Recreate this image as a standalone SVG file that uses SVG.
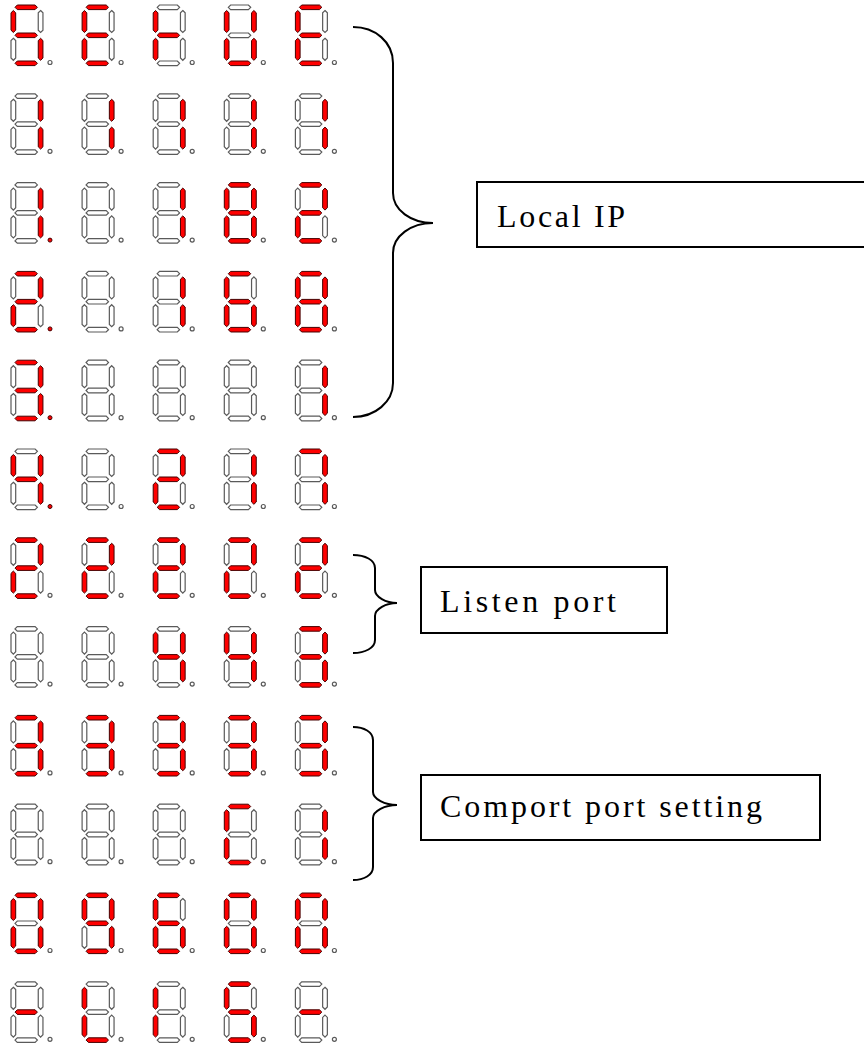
<svg xmlns="http://www.w3.org/2000/svg" xmlns:xlink="http://www.w3.org/1999/xlink" width="864" height="1046" viewBox="0 0 864 1046">
<style>
use{fill:#fff;stroke:#5a5a5a;stroke-width:1.2}
use.n{fill:#f00;stroke:#400;stroke-width:1}
.box{fill:#fff;stroke:#000;stroke-width:2}
.t{font-family:"Liberation Serif",serif;font-size:32px;fill:#000}
.br{fill:none;stroke:#000;stroke-width:2}
</style>
<defs>
<path id="a" d="M4,2.3 L6.3,0 L24.1,0 L26.4,2.3 L24.1,4.6 L6.3,4.6Z"/>
<path id="g" d="M4,30.3 L6.3,28 L24.1,28 L26.4,30.3 L24.1,32.6 L6.3,32.6Z"/>
<path id="d" d="M4,58.3 L6.3,56 L24.1,56 L26.4,58.3 L24.1,60.6 L6.3,60.6Z"/>
<path id="f" d="M2.35,5.5 L4.7,7.8 L4.7,25.2 L2.35,27.5 L0,25.2 L0,7.8Z"/>
<path id="b" d="M29.6,5.5 L31.95,7.8 L31.95,25.2 L29.6,27.5 L27.25,25.2 L27.25,7.8Z"/>
<path id="e" d="M2.35,33.3 L4.7,35.6 L4.7,53 L2.35,55.3 L0,53 L0,35.6Z"/>
<path id="c" d="M29.6,33.3 L31.95,35.6 L31.95,53 L29.6,55.3 L27.25,53 L27.25,35.6Z"/>
<circle id="p" cx="39" cy="57.5" r="2"/>
</defs>
<rect width="864" height="1046" fill="#fff"/>
<!-- Row 1 -->
<g id="r1c1" transform="translate(11,5)"><use href="#a" class="n"/><use href="#b"/><use href="#c" class="n"/><use href="#d" class="n"/><use href="#e"/><use href="#f" class="n"/><use href="#g" class="n"/><use href="#p"/></g>
<g id="r1c2" transform="translate(82.1,5)"><use href="#a" class="n"/><use href="#b"/><use href="#c"/><use href="#d" class="n"/><use href="#e" class="n"/><use href="#f" class="n"/><use href="#g" class="n"/><use href="#p"/></g>
<g id="r1c3" transform="translate(153.2,5)"><use href="#a"/><use href="#b"/><use href="#c"/><use href="#d"/><use href="#e" class="n"/><use href="#f" class="n"/><use href="#g" class="n"/><use href="#p"/></g>
<g id="r1c4" transform="translate(224.3,5)"><use href="#a"/><use href="#b" class="n"/><use href="#c" class="n"/><use href="#d" class="n"/><use href="#e" class="n"/><use href="#f" class="n"/><use href="#g"/><use href="#p"/></g>
<g id="r1c5" transform="translate(295.4,5)"><use href="#a" class="n"/><use href="#b"/><use href="#c"/><use href="#d" class="n"/><use href="#e" class="n"/><use href="#f" class="n"/><use href="#g" class="n"/><use href="#p"/></g>
<!-- Row 2 -->
<g id="r2c1" transform="translate(11,93.8)"><use href="#a"/><use href="#b" class="n"/><use href="#c" class="n"/><use href="#d"/><use href="#e"/><use href="#f"/><use href="#g"/><use href="#p"/></g>
<g id="r2c2" transform="translate(82.1,93.8)"><use href="#a"/><use href="#b" class="n"/><use href="#c" class="n"/><use href="#d"/><use href="#e"/><use href="#f"/><use href="#g"/><use href="#p"/></g>
<g id="r2c3" transform="translate(153.2,93.8)"><use href="#a"/><use href="#b" class="n"/><use href="#c" class="n"/><use href="#d"/><use href="#e"/><use href="#f"/><use href="#g"/><use href="#p"/></g>
<g id="r2c4" transform="translate(224.3,93.8)"><use href="#a"/><use href="#b" class="n"/><use href="#c" class="n"/><use href="#d"/><use href="#e"/><use href="#f"/><use href="#g"/><use href="#p"/></g>
<g id="r2c5" transform="translate(295.4,93.8)"><use href="#a"/><use href="#b" class="n"/><use href="#c" class="n"/><use href="#d"/><use href="#e"/><use href="#f"/><use href="#g"/><use href="#p"/></g>
<!-- Row 3 -->
<g id="r3c1" transform="translate(11,182.6)"><use href="#a"/><use href="#b" class="n"/><use href="#c" class="n"/><use href="#d"/><use href="#e"/><use href="#f"/><use href="#g"/><use href="#p" class="n"/></g>
<g id="r3c2" transform="translate(82.1,182.6)"><use href="#a"/><use href="#b"/><use href="#c"/><use href="#d"/><use href="#e"/><use href="#f"/><use href="#g"/><use href="#p"/></g>
<g id="r3c3" transform="translate(153.2,182.6)"><use href="#a"/><use href="#b" class="n"/><use href="#c" class="n"/><use href="#d"/><use href="#e"/><use href="#f"/><use href="#g"/><use href="#p"/></g>
<g id="r3c4" transform="translate(224.3,182.6)"><use href="#a" class="n"/><use href="#b" class="n"/><use href="#c" class="n"/><use href="#d" class="n"/><use href="#e" class="n"/><use href="#f" class="n"/><use href="#g" class="n"/><use href="#p"/></g>
<g id="r3c5" transform="translate(295.4,182.6)"><use href="#a" class="n"/><use href="#b" class="n"/><use href="#c"/><use href="#d" class="n"/><use href="#e" class="n"/><use href="#f"/><use href="#g" class="n"/><use href="#p"/></g>
<!-- Row 4 -->
<g id="r4c1" transform="translate(11,271.4)"><use href="#a" class="n"/><use href="#b" class="n"/><use href="#c"/><use href="#d" class="n"/><use href="#e" class="n"/><use href="#f"/><use href="#g" class="n"/><use href="#p" class="n"/></g>
<g id="r4c2" transform="translate(82.1,271.4)"><use href="#a"/><use href="#b"/><use href="#c"/><use href="#d"/><use href="#e"/><use href="#f"/><use href="#g"/><use href="#p"/></g>
<g id="r4c3" transform="translate(153.2,271.4)"><use href="#a"/><use href="#b" class="n"/><use href="#c" class="n"/><use href="#d"/><use href="#e"/><use href="#f"/><use href="#g"/><use href="#p"/></g>
<g id="r4c4" transform="translate(224.3,271.4)"><use href="#a" class="n"/><use href="#b"/><use href="#c" class="n"/><use href="#d" class="n"/><use href="#e" class="n"/><use href="#f" class="n"/><use href="#g" class="n"/><use href="#p"/></g>
<g id="r4c5" transform="translate(295.4,271.4)"><use href="#a" class="n"/><use href="#b" class="n"/><use href="#c" class="n"/><use href="#d" class="n"/><use href="#e" class="n"/><use href="#f" class="n"/><use href="#g" class="n"/><use href="#p"/></g>
<!-- Row 5 -->
<g id="r5c1" transform="translate(11,360.2)"><use href="#a" class="n"/><use href="#b" class="n"/><use href="#c" class="n"/><use href="#d" class="n"/><use href="#e"/><use href="#f"/><use href="#g" class="n"/><use href="#p" class="n"/></g>
<g id="r5c2" transform="translate(82.1,360.2)"><use href="#a"/><use href="#b"/><use href="#c"/><use href="#d"/><use href="#e"/><use href="#f"/><use href="#g"/><use href="#p"/></g>
<g id="r5c3" transform="translate(153.2,360.2)"><use href="#a"/><use href="#b"/><use href="#c"/><use href="#d"/><use href="#e"/><use href="#f"/><use href="#g"/><use href="#p"/></g>
<g id="r5c4" transform="translate(224.3,360.2)"><use href="#a"/><use href="#b"/><use href="#c"/><use href="#d"/><use href="#e"/><use href="#f"/><use href="#g"/><use href="#p"/></g>
<g id="r5c5" transform="translate(295.4,360.2)"><use href="#a"/><use href="#b" class="n"/><use href="#c" class="n"/><use href="#d"/><use href="#e"/><use href="#f"/><use href="#g"/><use href="#p"/></g>
<!-- Row 6 -->
<g id="r6c1" transform="translate(11,449)"><use href="#a"/><use href="#b" class="n"/><use href="#c" class="n"/><use href="#d"/><use href="#e"/><use href="#f" class="n"/><use href="#g" class="n"/><use href="#p" class="n"/></g>
<g id="r6c2" transform="translate(82.1,449)"><use href="#a"/><use href="#b"/><use href="#c"/><use href="#d"/><use href="#e"/><use href="#f"/><use href="#g"/><use href="#p"/></g>
<g id="r6c3" transform="translate(153.2,449)"><use href="#a" class="n"/><use href="#b" class="n"/><use href="#c"/><use href="#d" class="n"/><use href="#e" class="n"/><use href="#f"/><use href="#g" class="n"/><use href="#p"/></g>
<g id="r6c4" transform="translate(224.3,449)"><use href="#a"/><use href="#b" class="n"/><use href="#c" class="n"/><use href="#d"/><use href="#e"/><use href="#f"/><use href="#g"/><use href="#p"/></g>
<g id="r6c5" transform="translate(295.4,449)"><use href="#a" class="n"/><use href="#b" class="n"/><use href="#c" class="n"/><use href="#d"/><use href="#e"/><use href="#f"/><use href="#g"/><use href="#p"/></g>
<!-- Row 7 -->
<g id="r7c1" transform="translate(11,537.8)"><use href="#a" class="n"/><use href="#b" class="n"/><use href="#c"/><use href="#d" class="n"/><use href="#e" class="n"/><use href="#f"/><use href="#g" class="n"/><use href="#p"/></g>
<g id="r7c2" transform="translate(82.1,537.8)"><use href="#a" class="n"/><use href="#b" class="n"/><use href="#c"/><use href="#d" class="n"/><use href="#e" class="n"/><use href="#f"/><use href="#g" class="n"/><use href="#p"/></g>
<g id="r7c3" transform="translate(153.2,537.8)"><use href="#a" class="n"/><use href="#b" class="n"/><use href="#c"/><use href="#d" class="n"/><use href="#e" class="n"/><use href="#f"/><use href="#g" class="n"/><use href="#p"/></g>
<g id="r7c4" transform="translate(224.3,537.8)"><use href="#a" class="n"/><use href="#b" class="n"/><use href="#c"/><use href="#d" class="n"/><use href="#e" class="n"/><use href="#f"/><use href="#g" class="n"/><use href="#p"/></g>
<g id="r7c5" transform="translate(295.4,537.8)"><use href="#a" class="n"/><use href="#b" class="n"/><use href="#c"/><use href="#d" class="n"/><use href="#e" class="n"/><use href="#f"/><use href="#g" class="n"/><use href="#p"/></g>
<!-- Row 8 -->
<g id="r8c1" transform="translate(11,626.6)"><use href="#a"/><use href="#b"/><use href="#c"/><use href="#d"/><use href="#e"/><use href="#f"/><use href="#g"/><use href="#p"/></g>
<g id="r8c2" transform="translate(82.1,626.6)"><use href="#a"/><use href="#b"/><use href="#c"/><use href="#d"/><use href="#e"/><use href="#f"/><use href="#g"/><use href="#p"/></g>
<g id="r8c3" transform="translate(153.2,626.6)"><use href="#a"/><use href="#b" class="n"/><use href="#c" class="n"/><use href="#d"/><use href="#e"/><use href="#f" class="n"/><use href="#g" class="n"/><use href="#p"/></g>
<g id="r8c4" transform="translate(224.3,626.6)"><use href="#a"/><use href="#b" class="n"/><use href="#c" class="n"/><use href="#d"/><use href="#e"/><use href="#f" class="n"/><use href="#g" class="n"/><use href="#p"/></g>
<g id="r8c5" transform="translate(295.4,626.6)"><use href="#a" class="n"/><use href="#b" class="n"/><use href="#c" class="n"/><use href="#d" class="n"/><use href="#e"/><use href="#f"/><use href="#g" class="n"/><use href="#p"/></g>
<!-- Row 9 -->
<g id="r9c1" transform="translate(11,715.4)"><use href="#a" class="n"/><use href="#b" class="n"/><use href="#c" class="n"/><use href="#d" class="n"/><use href="#e"/><use href="#f"/><use href="#g" class="n"/><use href="#p"/></g>
<g id="r9c2" transform="translate(82.1,715.4)"><use href="#a" class="n"/><use href="#b" class="n"/><use href="#c" class="n"/><use href="#d" class="n"/><use href="#e"/><use href="#f"/><use href="#g" class="n"/><use href="#p"/></g>
<g id="r9c3" transform="translate(153.2,715.4)"><use href="#a" class="n"/><use href="#b" class="n"/><use href="#c" class="n"/><use href="#d" class="n"/><use href="#e"/><use href="#f"/><use href="#g" class="n"/><use href="#p"/></g>
<g id="r9c4" transform="translate(224.3,715.4)"><use href="#a" class="n"/><use href="#b" class="n"/><use href="#c" class="n"/><use href="#d" class="n"/><use href="#e"/><use href="#f"/><use href="#g" class="n"/><use href="#p"/></g>
<g id="r9c5" transform="translate(295.4,715.4)"><use href="#a" class="n"/><use href="#b" class="n"/><use href="#c" class="n"/><use href="#d" class="n"/><use href="#e"/><use href="#f"/><use href="#g" class="n"/><use href="#p"/></g>
<!-- Row 10 -->
<g id="r10c1" transform="translate(11,804.2)"><use href="#a"/><use href="#b"/><use href="#c"/><use href="#d"/><use href="#e"/><use href="#f"/><use href="#g"/><use href="#p"/></g>
<g id="r10c2" transform="translate(82.1,804.2)"><use href="#a"/><use href="#b"/><use href="#c"/><use href="#d"/><use href="#e"/><use href="#f"/><use href="#g"/><use href="#p"/></g>
<g id="r10c3" transform="translate(153.2,804.2)"><use href="#a"/><use href="#b"/><use href="#c"/><use href="#d"/><use href="#e"/><use href="#f"/><use href="#g"/><use href="#p"/></g>
<g id="r10c4" transform="translate(224.3,804.2)"><use href="#a" class="n"/><use href="#b"/><use href="#c"/><use href="#d" class="n"/><use href="#e" class="n"/><use href="#f" class="n"/><use href="#g"/><use href="#p"/></g>
<g id="r10c5" transform="translate(295.4,804.2)"><use href="#a"/><use href="#b" class="n"/><use href="#c" class="n"/><use href="#d"/><use href="#e"/><use href="#f"/><use href="#g"/><use href="#p"/></g>
<!-- Row 11 -->
<g id="r11c1" transform="translate(11,893)"><use href="#a" class="n"/><use href="#b" class="n"/><use href="#c" class="n"/><use href="#d" class="n"/><use href="#e" class="n"/><use href="#f" class="n"/><use href="#g"/><use href="#p"/></g>
<g id="r11c2" transform="translate(82.1,893)"><use href="#a" class="n"/><use href="#b" class="n"/><use href="#c" class="n"/><use href="#d" class="n"/><use href="#e"/><use href="#f" class="n"/><use href="#g" class="n"/><use href="#p"/></g>
<g id="r11c3" transform="translate(153.2,893)"><use href="#a" class="n"/><use href="#b"/><use href="#c" class="n"/><use href="#d" class="n"/><use href="#e" class="n"/><use href="#f" class="n"/><use href="#g" class="n"/><use href="#p"/></g>
<g id="r11c4" transform="translate(224.3,893)"><use href="#a" class="n"/><use href="#b" class="n"/><use href="#c" class="n"/><use href="#d" class="n"/><use href="#e" class="n"/><use href="#f" class="n"/><use href="#g"/><use href="#p"/></g>
<g id="r11c5" transform="translate(295.4,893)"><use href="#a" class="n"/><use href="#b" class="n"/><use href="#c" class="n"/><use href="#d" class="n"/><use href="#e" class="n"/><use href="#f" class="n"/><use href="#g"/><use href="#p"/></g>
<!-- Row 12 -->
<g id="r12c1" transform="translate(11,981.8)"><use href="#a"/><use href="#b"/><use href="#c"/><use href="#d"/><use href="#e"/><use href="#f"/><use href="#g" class="n"/><use href="#p"/></g>
<g id="r12c2" transform="translate(82.1,981.8)"><use href="#a"/><use href="#b"/><use href="#c"/><use href="#d" class="n"/><use href="#e" class="n"/><use href="#f" class="n"/><use href="#g"/><use href="#p"/></g>
<g id="r12c3" transform="translate(153.2,981.8)"><use href="#a"/><use href="#b"/><use href="#c"/><use href="#d"/><use href="#e" class="n"/><use href="#f" class="n"/><use href="#g"/><use href="#p"/></g>
<g id="r12c4" transform="translate(224.3,981.8)"><use href="#a" class="n"/><use href="#b"/><use href="#c" class="n"/><use href="#d" class="n"/><use href="#e"/><use href="#f" class="n"/><use href="#g" class="n"/><use href="#p"/></g>
<g id="r12c5" transform="translate(295.4,981.8)"><use href="#a"/><use href="#b"/><use href="#c"/><use href="#d"/><use href="#e"/><use href="#f"/><use href="#g" class="n"/><use href="#p"/></g>
<!-- Connectors (braces) -->
<g id="connectors">
<path class="br" d="M353,27 C375,27 393,42 393,63 L393,193 C393,210 411,223 433,223 C411,223 393,236 393,253 L393,383 C393,402 375,417 353,417"/>
<path class="br" d="M353,555 C365,555 375,560 375,568 L375,590 C375,597 386,603 397,603 C386,603 375,609 375,616 L375,640 C375,648 365,653 353,653"/>
<path class="br" d="M353,727 C364,727 373,732 373,740 L373,792 C373,799 385,805 397,805 C385,805 373,811 373,818 L373,867 C373,875 364,880 353,880"/>
</g>
<!-- Label nodes -->
<g id="local-ip"><rect class="box" x="477" y="182" width="400" height="65"/><text class="t" x="497" y="227" textLength="128" lengthAdjust="spacing">Local IP</text></g>
<g id="listen-port"><rect class="box" x="421" y="567" width="246" height="66"/><text class="t" x="440" y="612" textLength="176" lengthAdjust="spacing">Listen port</text></g>
<g id="comport-setting"><rect class="box" x="421" y="775" width="399" height="65"/><text class="t" x="440" y="817" textLength="322" lengthAdjust="spacing">Comport port setting</text></g>
</svg>
